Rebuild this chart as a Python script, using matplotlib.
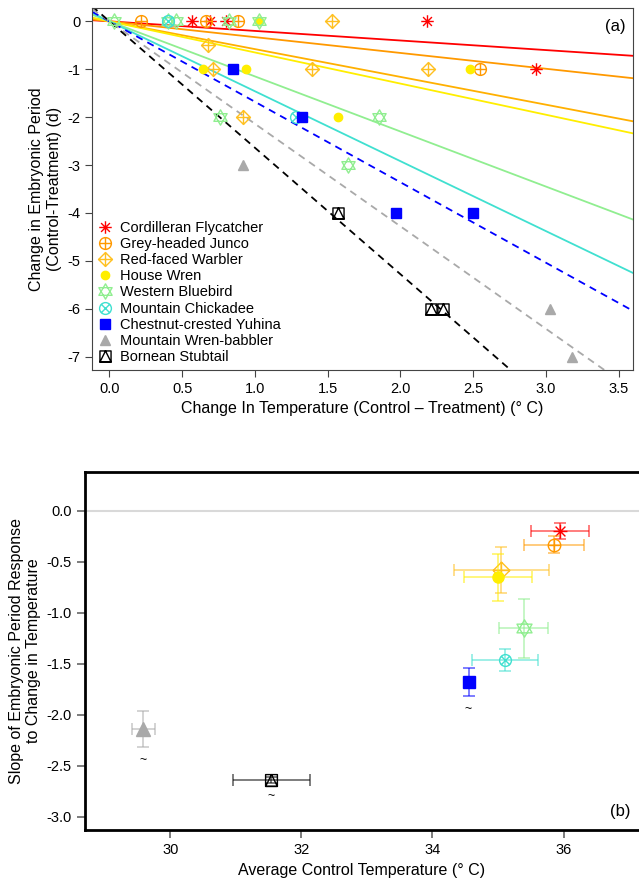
import numpy as np
import matplotlib
matplotlib.use("Agg")
import matplotlib.pyplot as plt
from matplotlib.path import Path

plt.rcParams['font.family'] = ['Liberation Sans', 'DejaVu Sans']
plt.rcParams['axes.unicode_minus'] = False

#########
# Data  #
#########
species = ['Cordilleran Flycatcher', 'Grey-headed Junco', 'Red-faced Warbler',
           'House Wren', 'Western Bluebird', 'Mountain Chickadee',
           'Chestnut-crested Yuhina', 'Mountain Wren-babbler', 'Bornean Stubtail']
colors = ['#FF0000', '#FF9900', '#FFC020', '#FFEE00', '#90EE90',
          '#40E0D0', '#0000FF', '#A9A9A9', '#000000']
line_colors = ['#FF0000', '#FF9900', '#FFB000', '#FFEE00', '#90EE90',
               '#40E0D0', '#0000FF', '#A9A9A9', '#000000']
dashed = [False, False, False, False, False, False, True, True, True]

# slope of embryonic period vs change in temperature
slopes = [-0.20, -0.33, -0.58, -0.65, -1.15, -1.46, -1.68, -2.14, -2.64]

# panel (a) raw points: change in temperature, change in embryonic period
dT = [
    [0.57, 0.69, 0.80, 2.18, 2.93],
    [0.22, 0.66, 0.88, 2.55],
    [1.53, 0.68, 0.71, 1.39, 2.19, 0.92],
    [1.03, 0.64, 0.94, 2.48, 1.57],
    [0.03, 0.40, 0.46, 0.82, 1.03, 0.76, 1.85, 1.64],
    [0.40, 1.28],
    [0.85, 1.32, 1.97, 2.50],
    [0.92, 3.03, 3.18],
    [1.57, 2.21, 2.29],
]
dE = [
    [0, 0, 0, 0, -1],
    [0, 0, 0, -1],
    [0, -0.5, -1, -1, -1, -2],
    [0, -1, -1, -1, -2],
    [0, 0, 0, 0, 0, -2, -2, -3],
    [0, -2],
    [-1, -2, -4, -4],
    [-3, -6, -7],
    [-4, -6, -6],
]

# panel (b): average control temperature, errors
avg_temp = [35.94, 35.85, 35.05, 35.00, 35.39, 35.11, 34.55, 29.59, 31.54]
temp_err = [0.44, 0.46, 0.72, 0.52, 0.37, 0.50, 0.05, 0.18, 0.59]
slope_err = [0.08, 0.08, 0.23, 0.23, 0.29, 0.11, 0.14, 0.18, 0.03]
tilde = [False, False, False, False, False, False, True, True, True]

######################
# R-like pch markers #
######################
def segs(lines):
    verts, codes = [], []
    for a, b in lines:
        verts += [a, b]
        codes += [Path.MOVETO, Path.LINETO]
    return Path(verts, codes)

def poly(pts):
    return Path(pts + [pts[0]], [Path.MOVETO] + [Path.LINETO] * (len(pts) - 1) + [Path.CLOSEPOLY])

d = 0.7071
plus = segs([((-1, 0), (1, 0)), ((0, -1), (0, 1))])
cross = segs([((-d, -d), (d, d)), ((-d, d), (d, -d))])
circle = Path.unit_circle()
m_ast = Path.make_compound_path(plus, cross)
m_cplus = Path.make_compound_path(circle, plus)
m_dplus = Path.make_compound_path(poly([(0, 1), (1, 0), (0, -1), (-1, 0)]), plus)
m_star = Path.make_compound_path(poly([(0, 1), (0.866, -0.5), (-0.866, -0.5)]),
                                 poly([(0, -1), (0.866, 0.5), (-0.866, 0.5)]))
m_cx = Path.make_compound_path(circle, cross)
m_sqtri = Path.make_compound_path(poly([(-1, -1), (1, -1), (1, 1), (-1, 1)]),
                                  poly([(-1, -1), (0, 1), (1, -1)]))
markers = [m_ast, m_cplus, m_dplus, 'o', m_star, m_cx, 's', '^', m_sqtri]
filled = [False, False, False, True, False, False, True, True, False]
size_a = [9, 8.5, 10, 6, 11, 8.5, 6.5, 7, 8]
size_b = [10, 9, 12, 8, 12.5, 8.5, 9, 10, 8.5]

fig = plt.figure(figsize=(6.39, 8.81), dpi=100)

###############
# Panel (a)   #
###############
ax = fig.add_axes([0.144, 0.580, 0.847, 0.411])
xlim = (-0.12, 3.6)
xs = np.array(xlim)
for i in range(len(species)):
    ax.plot(xs, slopes[i] * xs, color=line_colors[i], lw=1.3,
            ls=(0, (4, 3)) if dashed[i] else '-')
for i in range(len(species)):
    fc = colors[i] if filled[i] else 'none'
    ax.plot(dT[i], dE[i], ls='none', marker=markers[i], ms=size_a[i],
            mec=colors[i], mfc=fc, mew=1.0, label=species[i])
ax.set_xlim(xlim)
ax.set_ylim(-7.28, 0.28)
ax.set_xticks(np.arange(0, 3.51, 0.5))
ax.set_xticklabels([f'{v:.1f}' for v in np.arange(0, 3.51, 0.5)])
ax.set_yticks(range(0, -8, -1))
ax.tick_params(labelsize=10.5, color='#444444', length=5)
for s in ax.spines.values():
    s.set_color('#444444')
ax.set_xlabel('Change In Temperature (Control – Treatment) (° C)', fontsize=11.5)
ax.set_ylabel('Change in Embryonic Period\n(Control-Treatment) (d)', fontsize=11.5)
ax.text(0.985, 0.97, '(a)', transform=ax.transAxes, ha='right', va='top', fontsize=12)
ax.legend(loc='lower left', frameon=False, fontsize=10.5, handlelength=1.0,
          handletextpad=0.5, labelspacing=0.15, borderaxespad=0.2, borderpad=0.2)

###############
# Panel (b)   #
###############
bx = fig.add_axes([0.133, 0.058, 0.867, 0.406])
bx.axhline(0, color='#D9D9D9', lw=1.5, zorder=0)
for i in range(len(species)):
    bx.errorbar(avg_temp[i], slopes[i], xerr=temp_err[i], yerr=slope_err[i],
                fmt='none', ecolor=colors[i], alpha=0.55, capsize=4, elinewidth=1.3,
                capthick=1.3)
    fc = colors[i] if filled[i] else 'none'
    bx.plot(avg_temp[i], slopes[i], ls='none', marker=markers[i], ms=size_b[i],
            mec=colors[i], mfc=fc, mew=1.0)
    if tilde[i]:
        bx.annotate('~', (avg_temp[i], slopes[i] - slope_err[i]), xytext=(0, -5),
                    textcoords='offset points', ha='center', va='top', fontsize=9)
bx.set_xlim(28.7, 37.15)
bx.set_ylim(-3.13, 0.38)
bx.set_xticks([30, 32, 34, 36])
bx.set_yticks(np.arange(0, -3.01, -0.5))
bx.set_yticklabels([f'{v:.1f}' if v != 0 else '0.0' for v in np.arange(0, -3.01, -0.5)])
bx.tick_params(labelsize=10.5, color='#666666', length=6, width=1.2)
bx.spines['right'].set_visible(False)
for k in ['left', 'top', 'bottom']:
    bx.spines[k].set_linewidth(2)
bx.set_xlabel('Average Control Temperature (° C)', fontsize=11.5)
bx.set_ylabel('Slope of Embryonic Period Response\nto Change in Temperature', fontsize=11.5)
bx.text(0.985, 0.03, '(b)', transform=bx.transAxes, ha='right', va='bottom', fontsize=12)

fig.savefig('out.png', dpi=100)
